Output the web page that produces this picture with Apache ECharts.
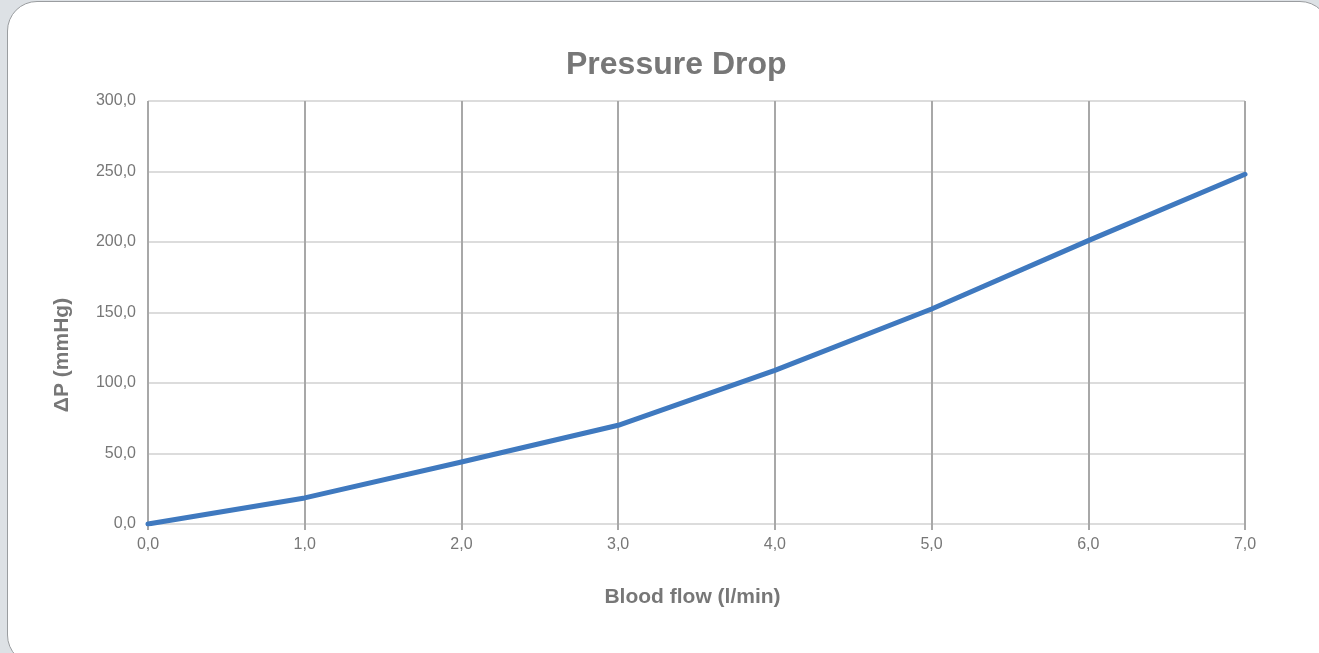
<!DOCTYPE html>
<html>
<head>
<meta charset="utf-8">
<script src="https://cdn.jsdelivr.net/npm/echarts@6/dist/echarts.min.js"></script>
<style>
html,body{margin:0;padding:0;width:1319px;height:653px;overflow:hidden;background:#dde1e5;}
#card{position:absolute;left:7px;top:1px;width:1323px;height:664px;background:#fff;border:1.5px solid #9a9da0;border-radius:30px;box-sizing:border-box;}
#chart{position:absolute;left:0;top:0;width:1319px;height:653px;}
</style>
</head>
<body>
<div id="card"></div>
<div id="chart"></div>
<script>
const flow = [0, 1, 2, 3, 4, 5, 6, 7];
const pressureDrop = [0, 18.5, 44, 70, 109, 152.5, 201, 248];
const yTicks = [0, 50, 100, 150, 200, 250, 300];

const FONT = 'Liberation Sans, Arial, sans-serif';
const chart = echarts.init(document.getElementById('chart'));
const fmt = v => v.toFixed(1).replace('.', ',');
chart.setOption({
  backgroundColor: 'transparent',
  animation: false,
  title: {
    text: 'Pressure Drop',
    left: 561,
    top: 44,
    textStyle: {fontFamily: FONT, fontSize: 32, fontWeight: 'bold', color: '#777777'}
  },
  graphic: [{
    type: 'text',
    x: 62, y: 355,
    rotation: Math.PI / 2,
    style: {
      text: 'ΔP (mmHg)',
      fontFamily: FONT, fontSize: 21, fontWeight: 'bold', fill: '#777777',
      align: 'center', verticalAlign: 'middle'
    }
  }],
  grid: {left: 148, right: 74, top: 101, bottom: 129, containLabel: false},
  xAxis: {
    type: 'value', min: 0, max: 7, interval: 1,
    name: 'Blood flow (l/min)', nameLocation: 'middle', nameGap: 63,
    nameTextStyle: {fontFamily: FONT, fontSize: 21, fontWeight: 'bold', color: '#777777', padding: [0, 0, 0, -8]},
    axisLine: {show: false},
    axisTick: {show: true, length: 6, lineStyle: {color: '#a8a8a8', width: 2}},
    axisLabel: {formatter: fmt, margin: 13, fontFamily: FONT, fontSize: 16, color: '#777777'},
    splitLine: {show: true, lineStyle: {color: '#a8a8a8', width: 2}}
  },
  yAxis: {
    type: 'value', min: yTicks[0], max: yTicks[yTicks.length - 1], interval: 50,
    axisLine: {show: false},
    axisTick: {show: false},
    axisLabel: {formatter: fmt, margin: 12, fontFamily: FONT, fontSize: 16, color: '#777777'},
    splitLine: {show: true, lineStyle: {color: '#dcdcdc', width: 2}}
  },
  series: [{
    type: 'line',
    data: flow.map((x, i) => [x, pressureDrop[i]]),
    showSymbol: false,
    lineStyle: {color: '#3f79bf', width: 5, cap: 'round', join: 'round'},
    z: 5
  }]
});
</script>
</body>
</html>
